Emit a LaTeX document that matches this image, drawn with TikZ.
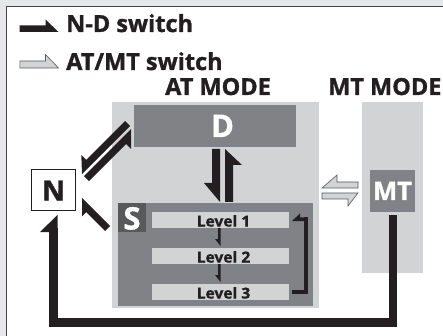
\documentclass[tikz,border=0pt]{standalone}
\usepackage{fontspec}
\usepackage{graphicx}
\setmainfont{Open Sans}[BoldFeatures={FakeBold=1.2}]
\usetikzlibrary{calc}
\definecolor{bgc}{HTML}{E6E7E8}
\definecolor{lg}{HTML}{D1D3D4}
\definecolor{dg}{HTML}{808285}
\definecolor{sg}{HTML}{58595B}
\definecolor{blk}{HTML}{231F20}
% harpoon: [opts]{A}{B}{shaft width}{head length}{barb width}{side angle}
\newcommand{\harp}[7][]{%
  \coordinate (hpX) at ($(#3)!#5!(#2)$);
  \path[#1] (#2) -- (#3) -- ($(hpX)!#6!#7:(#3)$) -- ($(hpX)!#4!#7:(#3)$) -- ($(#2)!#4!#7:(#3)$) -- cycle;}
\newcommand{\hdr}{\fontsize{23.5}{25}\selectfont\bfseries}
\newcommand{\lvf}{\fontsize{15}{16}\selectfont\bfseries}
\tikzset{
  rbox/.style={inner sep=0pt, outer sep=0pt, draw=none},
  lgbox/.style={rbox, fill=lg},
  dgbox/.style={rbox, fill=dg},
  blkarrow/.style={fill=blk},
  grayarrow/.style={fill=lg, draw=sg, line width=0.6pt},
  hdrtext/.style={anchor=base west, inner sep=0pt, font=\hdr, text=blk},
  boxtext/.style={anchor=base, inner sep=0pt, text=white},
  lvtext/.style={anchor=base, inner sep=0pt, font=\lvf, text=blk}
}
\begin{document}
\begin{tikzpicture}[x=1pt,y=-1pt]
\useasboundingbox (0,0) rectangle (443,336);
\fill[bgc] (0,0) rectangle (443,336);
\fill[white] (6,6) rectangle (443,336);
\draw[blk!85, line width=1.3pt] (6.3,336) -- (6.3,6.3) -- (443,6.3);

% legend
\harp[blkarrow]{19.5,32}{58.5,32}{6.5pt}{13pt}{12.5pt}{90}
\node[hdrtext] (lg1) at (66,32) {N-D switch};
\harp[grayarrow]{19.8,68}{58.5,68}{7pt}{13pt}{13.5pt}{90}
\node[hdrtext] (lg2) at (66,70) {AT/MT switch};

% mode titles
\node[hdrtext] (atmt) at (165,95) {AT MODE};
\node[hdrtext] (mtmt) at (328,95) {MT MODE};

% boxes
\node[lgbox, minimum width=207pt, minimum height=206pt] (atbox) at (215.5,205) {};
\node[lgbox, minimum width=61pt, minimum height=171pt] (mtbox) at (392.5,187.5) {};
\node[dgbox, minimum width=162pt, minimum height=42pt] (D) at (215,126) {};
\node[dgbox, minimum width=195pt, minimum height=103pt] (S) at (215.5,254.5) {};
\node[rbox, fill=sg, minimum width=28pt, minimum height=29pt] (Ssq) at (132,217.5) {};
\node[lgbox, minimum width=137pt, minimum height=16pt] (lv1) at (220.5,220) {};
\node[lgbox, minimum width=137pt, minimum height=16pt] (lv2) at (220.5,256) {};
\node[lgbox, minimum width=137pt, minimum height=16pt] (lv3) at (220.5,292) {};
\node[dgbox, minimum width=45pt, minimum height=42pt] (MT) at (392.5,191) {};
\node[rbox, fill=white, draw=blk, line width=1.5pt, minimum width=44pt, minimum height=41pt] (N) at (53.5,190) {};

% box texts
\node[boxtext, font=\fontsize{31}{33}\selectfont\bfseries] (Dt) at (222.5,137) {D};
\node[boxtext, font=\fontsize{31}{33}\selectfont\bfseries] (St) at (132,229.5) {S};
\node[boxtext, font=\fontsize{25.5}{27}\selectfont\bfseries] (MTt) at (392.5,200) {MT};
\node[boxtext, text=blk, font=\fontsize{28}{30}\selectfont\bfseries] (Nt) at (53.5,200.5) {N};
\node[lvtext] (l1) at (223.5,226.5) {\scalebox{1.04}[1]{Level 1}};
\node[lvtext] (l2) at (223.5,262.5) {\scalebox{1.04}[1]{Level 2}};
\node[lvtext] (l3) at (223.5,298.5) {\scalebox{1.04}[1]{Level 3}};

% D <-> S
\harp[blkarrow]{220,149}{220,202}{8pt}{19pt}{16pt}{-90}
\harp[blkarrow]{225,202}{225,149}{8pt}{16pt}{17pt}{-90}
% level steps
\harp[blkarrow]{220.5,228}{220.5,246}{2.5pt}{7pt}{5.5pt}{-90}
\harp[blkarrow]{220.5,264}{220.5,282}{2.5pt}{7pt}{5.5pt}{-90}
% level 3 -> level 1 loop
\draw[blk, line width=3.6pt, line join=miter] (292,292) -- (306,292) -- (306,217.4);
\harp[blkarrow]{307.8,221}{292,221}{3.6pt}{8pt}{7.5pt}{-90}

% N <-> D, S -> N
\harp[blkarrow]{130,126}{82,174}{7pt}{13pt}{14pt}{-90}
\harp[blkarrow]{84,176.2}{131,129.2}{7pt}{14pt}{14pt}{-90}
\harp[blkarrow]{110,226}{82,198}{7pt}{13pt}{13pt}{90}

% AT/MT switch
\harp[grayarrow]{358,188}{322,188}{6pt}{15pt}{13pt}{-90}
\harp[grayarrow]{322,193}{358,193}{6pt}{10pt}{13pt}{-90}

% MT -> N
\draw[blk, line width=8.5pt, line join=miter] (393,215) -- (393,322.5) -- (53.25,322.5) -- (53.25,228);
\harp[blkarrow]{57.5,230}{57.5,215}{8.5pt}{17pt}{17.5pt}{90}
\end{tikzpicture}
\end{document}
